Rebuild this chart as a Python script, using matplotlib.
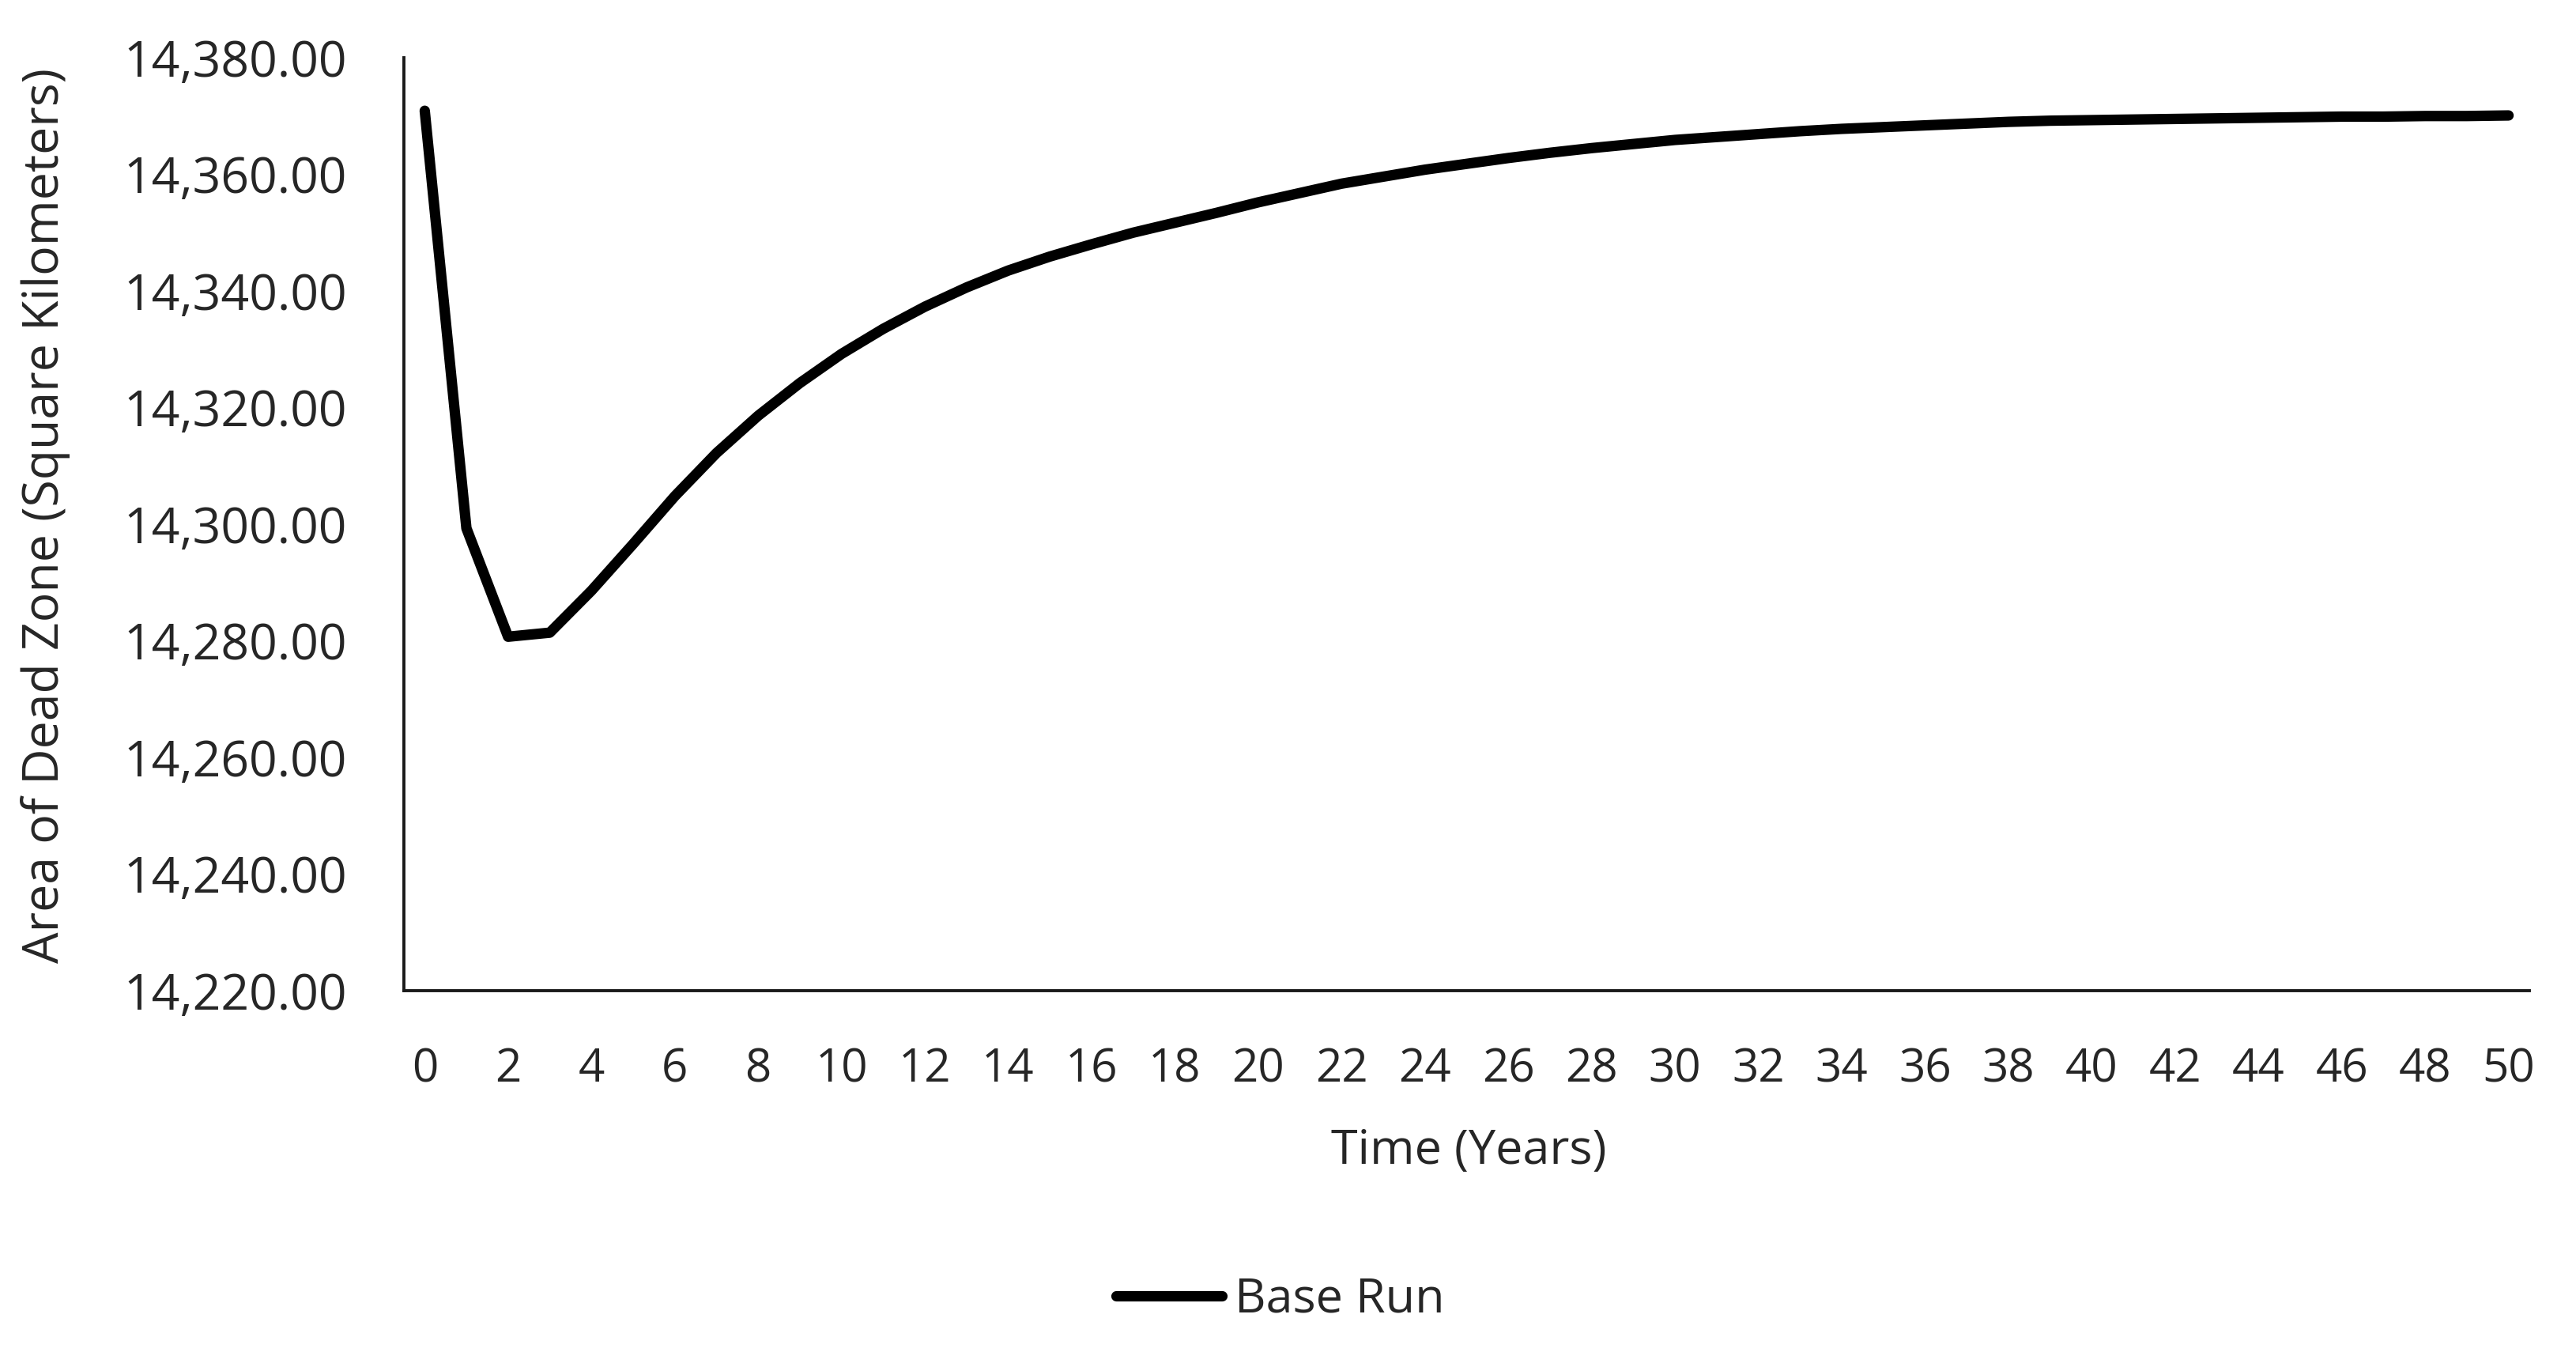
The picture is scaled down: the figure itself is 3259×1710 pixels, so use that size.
import matplotlib
matplotlib.use("Agg")
import matplotlib.pyplot as plt
from matplotlib.ticker import FuncFormatter, MultipleLocator

years = list(range(0, 51))
base_run = [
    14370.9, 14299.3, 14280.7, 14281.4, 14288.6, 14296.6, 14304.8, 14312.2, 14318.6, 14324.2,
    14329.2, 14333.5, 14337.3, 14340.6, 14343.5, 14345.9, 14348.0, 14350.0, 14351.7, 14353.4,
    14355.2, 14356.8, 14358.4, 14359.6, 14360.8, 14361.8, 14362.8, 14363.7, 14364.5, 14365.2,
    14365.9, 14366.4, 14366.9, 14367.4, 14367.8, 14368.1, 14368.4, 14368.7, 14369.0, 14369.2,
    14369.3, 14369.4, 14369.5, 14369.6, 14369.7, 14369.8, 14369.9, 14369.9, 14370.0, 14370.0,
    14370.1,
]
series_name = "Base Run"
x_label = "Time (Years)"
y_label = "Area of Dead Zone (Square Kilometers)"

plt.rcParams["font.family"] = ["Open Sans", "DejaVu Sans"]

W, H = 3259, 1710
fig = plt.figure(figsize=(W / 100, H / 100), dpi=100)
left, right, top, bottom = 511, 3200, 73, 1253
ax = fig.add_axes([left / W, 1 - bottom / H, (right - left) / W, (bottom - top) / H])

ax.plot(years, base_run, color="black", lw=9.5, solid_capstyle="round",
        solid_joinstyle="round", label=series_name)

ax.set_xlim(-0.5, 50.5)
ax.set_ylim(14220, 14380)
ax.xaxis.set_major_locator(MultipleLocator(2))
ax.yaxis.set_major_locator(MultipleLocator(20))
ax.yaxis.set_major_formatter(FuncFormatter(lambda v, p: f"{v:,.2f}"))

for s in ["top", "right"]:
    ax.spines[s].set_visible(False)
for s in ["left", "bottom"]:
    ax.spines[s].set_color("#1a1a1a")
    ax.spines[s].set_linewidth(2.8)

ax.tick_params(axis="both", length=0, colors="#262626")
ax.tick_params(axis="y", pad=52, labelsize=45)
ax.tick_params(axis="x", pad=51, labelsize=42)

ax.set_xlabel(x_label, fontsize=44, color="#262626")
ax.set_ylabel(y_label, fontsize=45, color="#262626")
ax.xaxis.set_label_coords(0.501, -0.147)
ax.yaxis.set_label_coords(-0.157, 0.509)

fig.legend(loc="center", bbox_to_anchor=(0.497, 0.0386), frameon=False,
           prop={"size": 44}, handlelength=2.2,
           handletextpad=0.25, labelcolor="#262626")

fig.savefig("out.png", dpi=100, facecolor="white")
